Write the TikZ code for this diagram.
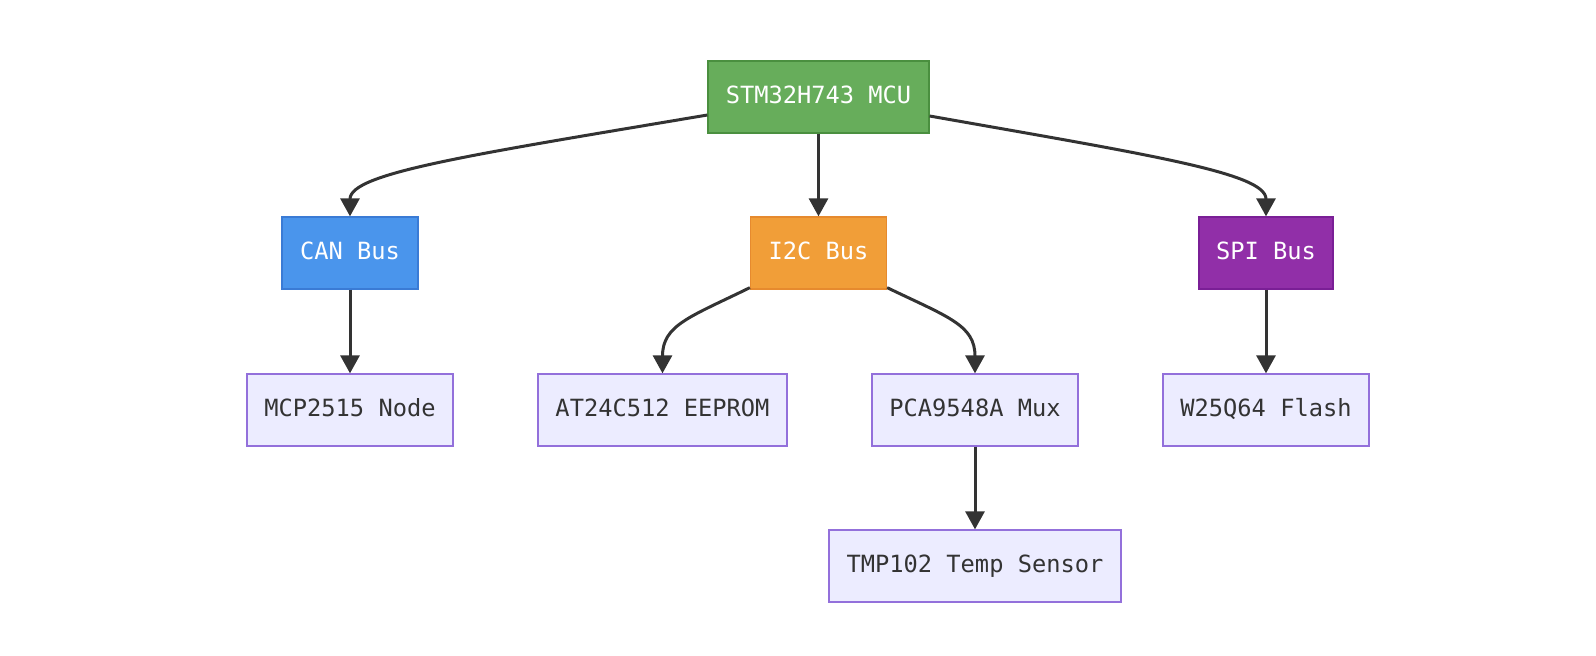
\documentclass[tikz,border=0pt]{standalone}
\usepackage{fontspec}
\setmonofont{DejaVu Sans Mono}
\usetikzlibrary{arrows.meta,calc}
\definecolor{txtdark}{HTML}{333333}
\definecolor{lightfill}{HTML}{ECECFF}
\definecolor{lightdraw}{HTML}{9370DB}
\definecolor{greenfill}{HTML}{67AD5B}
\definecolor{greendraw}{HTML}{4A8F3F}
\definecolor{bluefill}{HTML}{4A95EC}
\definecolor{bluedraw}{HTML}{3A7BD5}
\definecolor{orangefill}{HTML}{F19E38}
\definecolor{orangedraw}{HTML}{E68A2E}
\definecolor{purplefill}{HTML}{912FA8}
\definecolor{purpledraw}{HTML}{7A1F96}
\definecolor{edgecol}{HTML}{333333}
\tikzset{
  box/.style={rectangle, inner sep=0pt, minimum height=72pt, line width=1.3pt,
    font=\ttfamily\fontsize{23.7pt}{28pt}\selectfont, text height=17pt, text depth=5pt, align=center},
  lightbox/.style={box, fill=lightfill, draw=lightdraw, text=txtdark},
  mcubox/.style={box, fill=greenfill, draw=greendraw, text=white},
  canbox/.style={box, fill=bluefill, draw=bluedraw, text=white},
  i2cbox/.style={box, fill=orangefill, draw=orangedraw, text=white},
  spibox/.style={box, fill=purplefill, draw=purpledraw, text=white},
  link/.style={draw=edgecol, line width=3pt, -{Triangle[width=19pt,length=18pt]}}
}
\begin{document}
\begin{tikzpicture}[x=1pt,y=-1pt]
\useasboundingbox (0,0) rectangle (1596,656);
\node[mcubox, minimum width=221pt] (mcu) at (818.5,97) {STM32H743 MCU};
\node[canbox, minimum width=136pt] (can) at (350,253) {CAN Bus};
\node[i2cbox, minimum width=136pt] (i2c) at (818.5,253) {I2C Bus};
\node[spibox, minimum width=134pt] (spi) at (1266,253) {SPI Bus};
\node[lightbox, minimum width=206pt] (mcp) at (350,410) {MCP2515 Node};
\node[lightbox, minimum width=249pt] (at24) at (662.5,410) {AT24C512 EEPROM};
\node[lightbox, minimum width=206pt] (pca) at (975,410) {PCA9548A Mux};
\node[lightbox, minimum width=206pt] (w25) at (1266,410) {W25Q64 Flash};
\node[lightbox, minimum width=292pt] (tmp) at (975,566) {TMP102 Temp Sensor};

\draw[link] ($(mcu.west)+(0,18)$) .. controls (470,155) and (350,173) .. (can.north);
\draw[link] (mcu.south) -- (i2c.north);
\draw[link] ($(mcu.east)+(0,19)$) .. controls (1150,155) and (1266,173) .. (spi.north);
\draw[link] (can.south) -- (mcp.north);
\draw[link] ($(i2c.south west)+(0,-2)$) .. controls (690,317) and (662.5,325) .. (at24.north);
\draw[link] ($(i2c.south east)+(0,-2)$) .. controls (948,317) and (975,325) .. (pca.north);
\draw[link] (spi.south) -- (w25.north);
\draw[link] (pca.south) -- (tmp.north);
\end{tikzpicture}
\end{document}
